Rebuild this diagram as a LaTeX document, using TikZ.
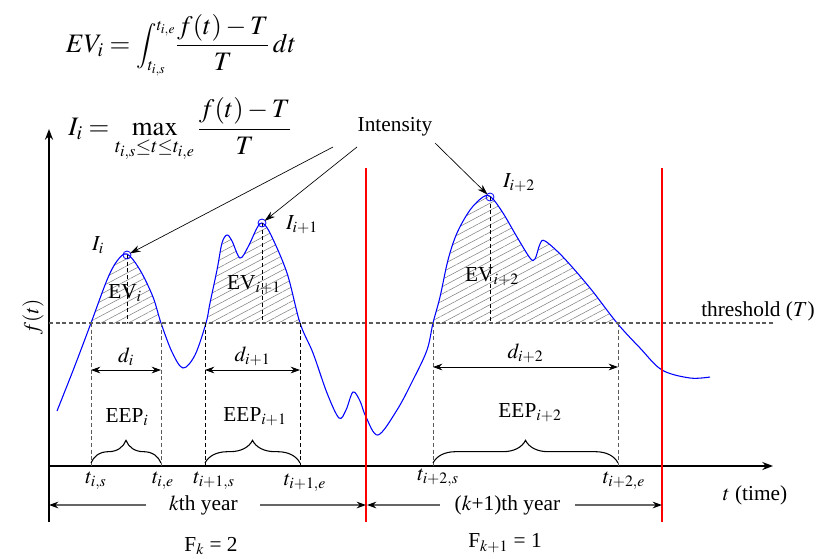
\documentclass[tikz,border=0pt]{standalone}
\usepackage[no-math]{fontspec}
\usepackage{mathptmx}
\setmainfont{Liberation Serif}
\usetikzlibrary{arrows.meta,decorations.pathreplacing,patterns.meta}
\definecolor{CurveBlue}{RGB}{0,0,255}
\definecolor{YearRed}{RGB}{255,0,0}
\definecolor{GuideGray}{RGB}{90,90,90}

\begin{document}
\begin{tikzpicture}[
    x=0.75pt,y=-0.75pt,
    lbl/.style={font=\fontsize{16}{19}\selectfont, inner sep=1pt},
    eqn/.style={font=\fontsize{20}{24}\selectfont, inner sep=0pt},
    axis/.style={line width=1.3pt, -{Stealth[length=8pt,width=6pt]}},
    curve/.style={draw=CurveBlue, line width=0.8pt},
    guide/.style={dash pattern=on 3pt off 2pt, line width=0.7pt},
    hatch/.style={pattern={Lines[angle=28,distance=4.8pt,line width=0.4pt]}, pattern color=gray},
    dim/.style={{Stealth[length=7pt,width=5pt]}-{Stealth[length=7pt,width=5pt]}, line width=0.6pt},
    pointer/.style={-{Stealth[length=8pt,width=5pt]}, line width=0.5pt, shorten >=2.5pt},
    year/.style={{Stealth[length=7pt,width=5pt,black]}-{Stealth[length=7pt,width=5pt,black]}, draw=gray!80!black, line width=1pt},
    yearline/.style={draw=YearRed, line width=0.8pt},
    eepbrace/.style={decorate, decoration={brace, amplitude=17pt}, line width=0.8pt}
  ]
    \useasboundingbox (0,0) rectangle (816,558);
    % formulas
    \node[eqn] (evdef) at (181,45) {$EV_i=\mbox{\fontsize{17}{20}\selectfont$\displaystyle\int_{t_{i,s}}^{t_{i,e}}$}{\displaystyle\frac{f(t)-T}{T}}\,dt$};
    \node[eqn] (idef) at (180,130) {$\displaystyle I_i=\max_{t_{i,s}\leq t\leq t_{i,e}}\frac{f(t)-T}{T}$};
    % curve and hatched events
    \path[save path=\fpath] plot[smooth,tension=0.55] coordinates {
      (57,411) (74,368) (91,323) (107,280) (117,261) (127,254) (140,270) (153,297)
      (161,323) (172,352) (183,368) (195,355) (206,323) (210,303) (217,270) (222,243)
      (227,235) (232,241) (240,258) (248,247) (257,228) (262,223) (270,233) (287,273)
      (300,323) (313,353) (327,393) (339,418) (346,410) (353,392) (360,401) (366,417)
      (378,435) (397,410) (413,380) (427,350) (433,323) (440,297) (448,260) (457,233)
      (470,210) (483,197) (491,197) (503,213) (517,237) (530,258) (535,259) (540,244)
      (545,241) (563,257) (590,288) (617,323) (640,348) (662,370) (690,378) (710,377)};
    \begin{scope}
      \clip (49,100) rectangle (773,323);
      \fill[hatch, use path=\fpath];
    \end{scope}
    \draw[curve, use path=\fpath];
    % axes
    \coordinate (org) at (49,466);
    \draw[axis] (49,522) -- (49,129);
    \draw[axis] (org) -- (773,466);
    \node[lbl, rotate=90] (fy) at (33,317) {$f(t)$};
    \node[lbl] (tx) at (755,495) {$t$ (time)};
    % threshold
    \draw[guide, line width=1pt, GuideGray] (49,323) -- (773,323);
    \node[lbl] (thr) at (758,311) {threshold ($T$)};
    % event boundaries
    \foreach \x/\c in {91/GuideGray,161/GuideGray,205/black,300/black,433/GuideGray,618/GuideGray} {
      \draw[guide,\c] (\x,323) -- (\x,466);
    }
    % peaks
    \foreach \n/\x/\y in {1/127/255,2/262/223,3/490/197} {
      \coordinate (pk\n) at (\x,\y);
      \draw[guide] (pk\n) -- (\x,323);
      \draw[CurveBlue, line width=0.6pt] (pk\n) circle[radius=3pt];
    }
    \node[lbl] (ilab1) at (98,245) {$I_i$};
    \node[lbl] (ilab2) at (302,225) {$I_{i+1}$};
    \node[lbl] (ilab3) at (519,183) {$I_{i+2}$};
    \node[lbl] (ev1) at (125,293) {EV$_i$};
    \node[lbl] (ev2) at (254,285) {EV$_{i+1}$};
    \node[lbl] (ev3) at (492,277) {EV$_{i+2}$};
    % intensity pointers
    \node[lbl] (int) at (395,127) {Intensity};
    \coordinate (int1) at (333,147);
    \coordinate (int2) at (357,147);
    \coordinate (int3) at (435,143);
    \draw[pointer] (int1) -- (pk1);
    \draw[pointer] (int2) -- (pk2);
    \draw[pointer] (int3) -- (pk3);
    % durations
    \draw[dim] (91,370) -- (161,370) node[midway,above=2pt,lbl] {$d_i$};
    \draw[dim] (205,370) -- (300,370) node[midway,above=2pt,lbl] {$d_{i+1}$};
    \draw[dim] (433,367) -- (618,367) node[midway,above=2pt,lbl] {$d_{i+2}$};
    % extreme event periods
    \draw[eepbrace] (91,463) -- (161,463);
    \draw[eepbrace] (205,463) -- (300,463);
    \draw[eepbrace] (433,463) -- (618,463);
    \node[lbl] (eep1) at (127,417) {EEP$_i$};
    \node[lbl] (eep2) at (255,417) {EEP$_{i+1}$};
    \node[lbl] (eep3) at (530,413) {EEP$_{i+2}$};
    % time labels
    \foreach \x/\y/\t in {96/481/{t_{i,s}},163/481/{t_{i,e}},214/481/{t_{i+1,s}},305/483/{t_{i+1,e}},438/478/{t_{i+2,s}},624/481/{t_{i+2,e}}} {
      \node[lbl] at (\x,\y) {$\t$};
    }
    % years
    \coordinate (ry1t) at (366,168);
    \coordinate (ry1b) at (366,522);
    \coordinate (ry2t) at (662,168);
    \coordinate (ry2b) at (662,522);
    \draw[yearline] (ry1t) -- (ry1b);
    \draw[yearline] (ry2t) -- (ry2b);
    \draw[year] (49,505) -- (366,505) node[pos=0.487,fill=white,lbl,inner xsep=17pt] {$k$th year};
    \draw[year] (367,505) -- (662,505) node[pos=0.476,fill=white,lbl,inner xsep=11pt] {($k$+1)th year};
    \node[lbl] (fk1) at (211,546) {F$_k$ = 2};
    \node[lbl] (fk2) at (505,543) {F$_{k+1}$ = 1};
  \end{tikzpicture}
\end{document}
